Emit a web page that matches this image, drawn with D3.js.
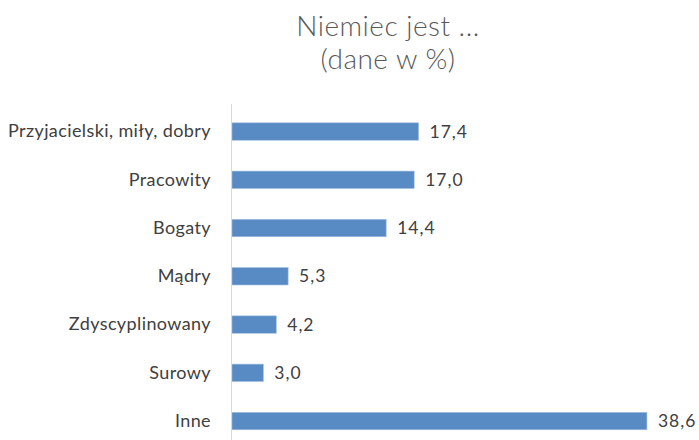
<!DOCTYPE html>
<html>
<head>
<meta charset="utf-8">
<script src="https://cdn.jsdelivr.net/npm/d3@7"></script>
<style>
  html, body { margin: 0; padding: 0; background: #fff; }
  svg { display: block; font-family: Lato, "Open Sans", sans-serif; }
</style>
</head>
<body>
<svg id="chart" width="699" height="440"></svg>
<script>
// data
const categories = ['Przyjacielski, miły, dobry', 'Pracowity', 'Bogaty', 'Mądry', 'Zdyscyplinowany', 'Surowy', 'Inne'];
const values = [17.4, 17.0, 14.4, 5.3, 4.2, 3.0, 38.6];
const titleLines = ['Niemiec jest ...', '(dane w %)'];

const svg = d3.select('#chart');
const fmt = v => d3.format('.1f')(v).replace('.', ',');

const x = d3.scaleLinear().domain([0, 40]).range([231, 662]);
const y = d3.scaleBand()
  .domain(categories)
  .range([107.4, 445.2])
  .paddingInner(0.64)
  .paddingOuter(0.32);

// title
svg.append('g')
  .selectAll('text')
  .data(titleLines)
  .join('text')
  .attr('x', 388)
  .attr('y', (d, i) => 36 + i * 33)
  .attr('text-anchor', 'middle')
  .attr('font-size', 28)
  .attr('font-weight', 300)
  .attr('letter-spacing', 0.5)
  .attr('fill', '#595959')
  .text(d => d);

// bars
svg.append('g')
  .selectAll('rect')
  .data(values)
  .join('rect')
  .attr('x', x(0) + 1)
  .attr('y', (d, i) => y(categories[i]))
  .attr('width', d => x(d) - x(0) - 1)
  .attr('height', y.bandwidth())
  .attr('fill', '#588bc3')
  .attr('stroke', '#9dbbe0')
  .attr('stroke-width', 0.6);

// vertical axis line + category labels
const axis = svg.append('g')
  .attr('transform', `translate(${x(0)},0)`)
  .call(d3.axisLeft(y).tickSize(0).tickPadding(20));
axis.select('.domain').remove();
axis.append('line')
  .attr('x1', 0.5).attr('x2', 0.5)
  .attr('y1', 104).attr('y2', 440)
  .attr('stroke', '#d9d9d9');
axis.selectAll('.tick text')
  .attr('font-size', 18)
  .attr('letter-spacing', 0.4)
  .attr('font-family', 'Lato, "Open Sans", sans-serif')
  .attr('fill', '#404040');

// value labels
svg.append('g')
  .selectAll('text')
  .data(values)
  .join('text')
  .attr('x', d => x(d) + 11)
  .attr('y', (d, i) => y(categories[i]) + y.bandwidth() / 2)
  .attr('dy', '0.35em')
  .attr('font-size', 17.5)
  .attr('letter-spacing', 1)
  .attr('fill', '#404040')
  .text(fmt);
</script>
</body>
</html>
